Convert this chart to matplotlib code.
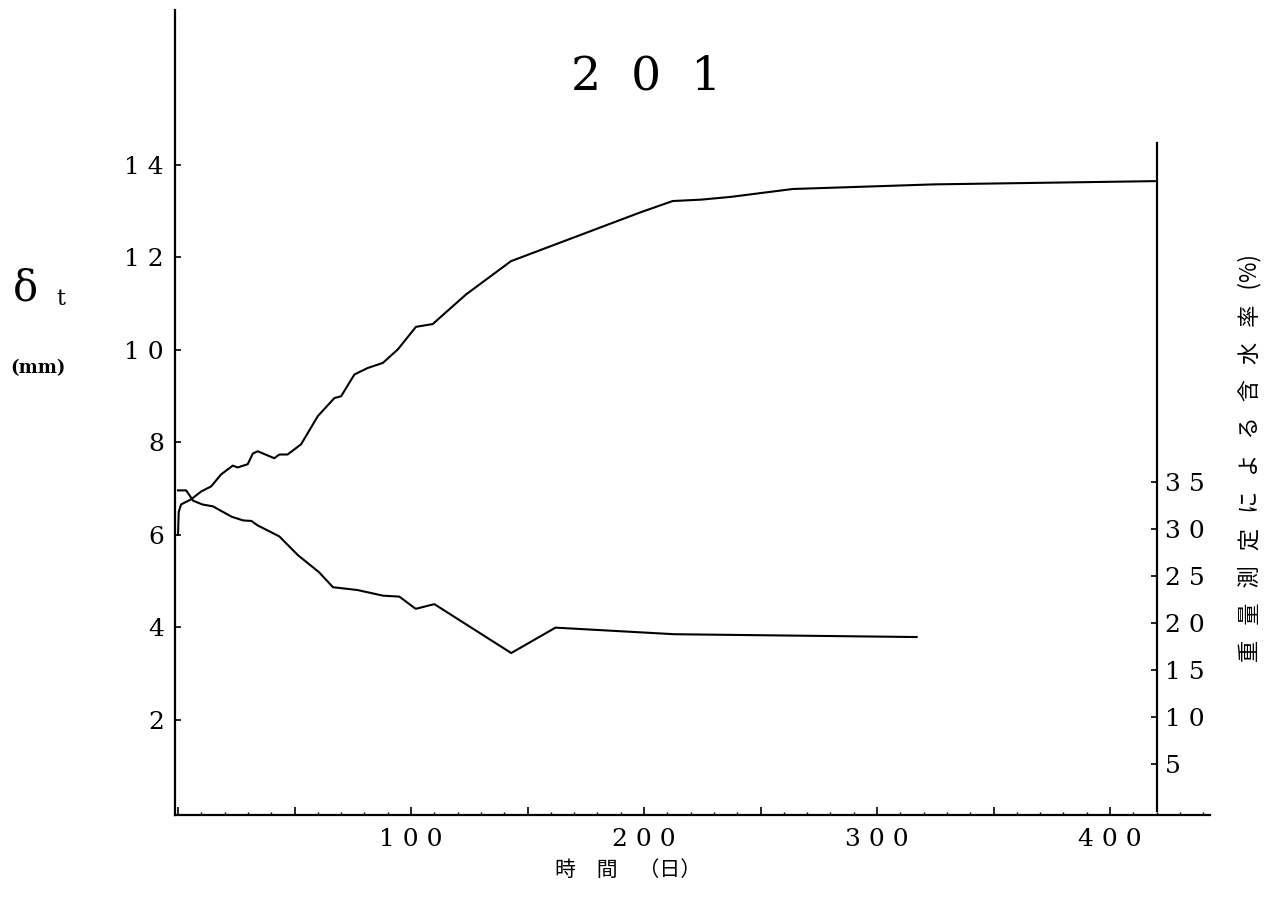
import matplotlib
matplotlib.use("Agg")
import matplotlib.pyplot as plt
from matplotlib.ticker import FixedLocator, FixedFormatter, MultipleLocator

# Displacement delta_t (mm) over time (days)
days_disp = [0, 0.3, 1.3, 5.6, 9.9, 14.2, 18.5, 23.5, 25.6, 29.9, 32.1, 34.2, 37.0,
             41.3, 43.5, 47.0, 52.8, 60.0, 67.1, 70.0, 75.7, 81.4, 87.9, 94.3,
             102.1, 109.3, 123.6, 142.9, 198.7, 212.3, 224.5, 237.3, 263.8,
             324.5, 419.2]
disp_mm = [6.0, 6.5, 6.66, 6.77, 6.94, 7.05, 7.31, 7.50, 7.46, 7.53, 7.76, 7.81, 7.75,
           7.66, 7.74, 7.74, 7.96, 8.57, 8.96, 9.00, 9.47, 9.61, 9.72, 10.01,
           10.50, 10.56, 11.20, 11.92, 12.98, 13.22, 13.25, 13.31, 13.48,
           13.58, 13.65]

# Moisture content by weighing (%) over time (days)
days_mc = [0, 3.5, 6.5, 10.5, 15, 23, 28, 31.5, 34, 43.5, 51.5, 60.5, 66.5, 77,
           88, 95, 102, 110, 143, 162, 213, 317]
moisture_pct = [34.1, 34.1, 33.0, 32.6, 32.4, 31.3, 30.9, 30.85, 30.4, 29.2, 27.2,
                25.4, 23.8, 23.5, 22.9, 22.8, 21.5, 22.0, 16.8, 19.5, 18.8, 18.5]

x_major = [0, 50, 100, 150, 200, 250, 300, 350, 400]
x_labels = ["", "", "1 0 0", "", "2 0 0", "", "3 0 0", "", "4 0 0"]
y_left_ticks = [2, 4, 6, 8, 10, 12, 14]
y_left_labels = ["2", "4", "6", "8", "1 0", "1 2", "1 4"]
y_right_ticks = [5, 10, 15, 20, 25, 30, 35]
y_right_labels = ["5", "1 0", "1 5", "2 0", "2 5", "3 0", "3 5"]

title_text = "2  0  1"
xlabel_text = "時　間　（日）"
ylabel_right = "重   量   測   定   に   よ   る   含   水   率   (%)"

W, H = 1277, 906
fig = plt.figure(figsize=(W / 100, H / 100), dpi=100)
fig.patch.set_facecolor("white")

ax = fig.add_axes([175 / W, 1 - 815 / H, (1210 - 175) / W, (815 - 10) / H])
ax.set_xlim(-1.3, 442.9)
ax.set_ylim(-0.054, 17.35)

ax2 = ax.twinx()
ax2.set_ylim(-0.43, 85.2)

serif = "DejaVu Serif"
cjk = ["Noto Sans CJK JP", "DejaVu Sans"]

ax.plot(days_disp, disp_mm, color="black", lw=1.5, solid_joinstyle="round")
ax2.plot(days_mc, moisture_pct, color="black", lw=1.5, solid_joinstyle="round")

for s in ["top", "right"]:
    ax.spines[s].set_visible(False)
for s in ["top", "left", "bottom"]:
    ax2.spines[s].set_visible(False)
for s in ["left", "bottom"]:
    ax.spines[s].set_linewidth(1.6)
ax2.spines["right"].set_linewidth(1.6)
ax2.spines["right"].set_position(("data", 420))
ax2.spines["right"].set_bounds(0, 71)

ax.xaxis.set_major_locator(FixedLocator(x_major))
ax.xaxis.set_major_formatter(FixedFormatter(x_labels))
ax.xaxis.set_minor_locator(MultipleLocator(10))
ax.tick_params(axis="x", which="major", direction="in", length=6, width=1.2,
               pad=9, labelsize=18, labelfontfamily=serif)
ax.tick_params(axis="x", which="minor", direction="in", length=2.5, width=1.0)

ax.yaxis.set_major_locator(FixedLocator(y_left_ticks))
ax.yaxis.set_major_formatter(FixedFormatter(y_left_labels))
ax.tick_params(axis="y", which="major", direction="in", length=4, width=1.2,
               pad=8, labelsize=18, labelfontfamily=serif)

ax2.yaxis.set_major_locator(FixedLocator(y_right_ticks))
ax2.yaxis.set_major_formatter(FixedFormatter(y_right_labels))
ax2.tick_params(axis="y", which="major", direction="in", length=4, width=1.2,
                pad=6, labelsize=18, labelfontfamily=serif)

fig.text(646 / W, 1 - 77 / H, title_text, fontsize=34, family=serif,
         ha="center", va="center")
fig.text(628 / W, 1 - 870 / H, xlabel_text, fontsize=15, family=cjk,
         ha="center", va="center")
fig.text(1250 / W, 1 - 458 / H, ylabel_right, fontsize=16, family=cjk,
         rotation=90, ha="center", va="center")
fig.text(25 / W, 1 - 288 / H, "δ", fontsize=30, family=serif,
         ha="center", va="center")
fig.text(61 / W, 1 - 299 / H, "t", fontsize=16, family=serif,
         ha="center", va="center")
fig.text(38 / W, 1 - 368 / H, "(mm)", fontsize=13, family=serif,
         fontweight="bold", ha="center", va="center")

fig.savefig("out.png", dpi=100)
